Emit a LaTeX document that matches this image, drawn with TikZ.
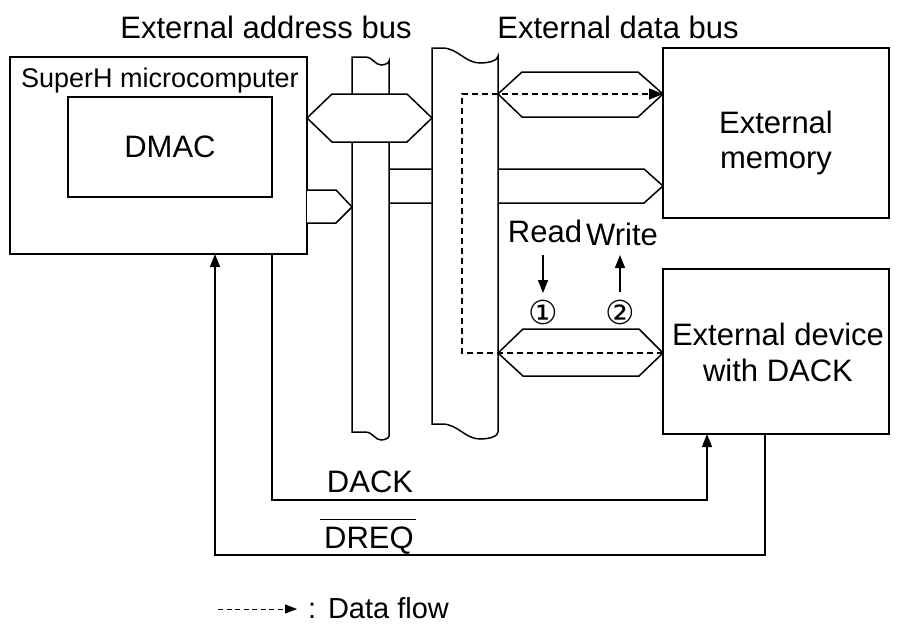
\documentclass[tikz,border=0pt]{standalone}
\usepackage{fontspec}
\setmainfont{Liberation Sans}
\newfontfamily\circfont{DejaVu Sans}
\usetikzlibrary{arrows.meta,calc}
\begin{document}
\begin{tikzpicture}[x=1pt,y=-1pt,line width=1.5pt,line join=miter,
  every node/.style={inner sep=0pt,outer sep=0pt},
  txt/.style={font=\fontsize{31}{36}\selectfont,anchor=base},
  box/.style={draw,line width=1.5pt,anchor=north west},
  hexa/.style={draw,fill=white,line width=1.5pt},
  bus/.style={draw,fill=white,line width=1.5pt},
  tip/.style={-{Triangle[length=13pt,width=10pt]}},
  flow/.style={line width=1.3pt,dash pattern=on 6pt off 4pt,-{Triangle[length=14pt,width=11pt]}},
  circ/.style={font=\circfont\fontsize{33}{36}\selectfont}]
\useasboundingbox (0,0) rectangle (899,624);

% boxes
\node[box,minimum width=297pt,minimum height=197pt] (superh) at (10,57) {};
\node[box,minimum width=204pt,minimum height=100pt] (dmac) at (68,97) {};
\node[box,minimum width=226pt,minimum height=170pt] (extmem) at (663,48) {};
\node[box,minimum width=226pt,minimum height=165pt] (extdev) at (663,269) {};

% external address bus
\draw[bus] (352,432) -- (352,57) -- (365,57) .. controls (373,57) and (375,65) .. (381,65) .. controls (385,65) and (389,63) .. (389,61) -- (389,436) .. controls (389,438) and (385,440) .. (381,440) .. controls (375,440) and (373,432) .. (365,432) -- cycle;

% bidirectional bus arrow SuperH <-> buses
\draw[hexa] (307,118) -- (332,94) -- (407,94) -- (432,118) -- (407,142) -- (332,142) -- cycle;
% SuperH -> address bus
\draw[hexa] (307,190) -- (336,190) -- (352,207) -- (336,223) -- (307,223);
% address bus -> external memory
\draw (389,169) -- (644,169) -- (663,186) -- (644,203) -- (389,203);

% external data bus
\draw[bus] (432,424) -- (432,48) -- (442,48) .. controls (458,48) and (465,63) .. (480,63) .. controls (490,63) and (498,60) .. (498,56) -- (498,432) .. controls (498,436) and (490,439) .. (480,439) .. controls (465,439) and (458,424) .. (442,424) -- cycle;

% data bus <-> memory / device
\draw[hexa] (498,94) -- (522,72) -- (638,72) -- (663,94) -- (638,117) -- (522,117) -- cycle;
\draw[hexa] (498,353) -- (523,329) -- (639,329) -- (663,353) -- (639,376) -- (523,376) -- cycle;

% data flow
\coordinate (fs) at (extdev.west |- 0,353);
\coordinate (fe) at (extmem.west |- 0,94);
\draw[flow] (fs) -- (462,353) -- (462,94) -- (fe);

% labels
\node[txt] (lab1) at (266,38) {External address bus};
\node[txt] (lab2) at (618,38) {External data bus};
\node[anchor=base,font=\fontsize{27}{32}\selectfont] (lsh) at (160,87) {SuperH microcomputer};
\node[txt,anchor=center] (ldmac) at (dmac.center) {DMAC};
\node[txt] (lm1) at (776,133) {External};
\node[txt] (lm2) at (776,168) {memory};
\node[txt] (ld1) at (778,345) {External device};
\node[txt] (ld2) at (778,381) {with DACK};
\node[txt] (lread) at (545,242) {Read};
\node[txt] (lwrite) at (622,245) {Write};
\node[circ] (c1) at (543,312) {①};
\node[circ] (c2) at (620,312) {②};
\draw[tip] (543,255) -- (543,293);
\draw[tip] (620,292) -- (620,255);

% DACK / DREQ
\node[txt] (ldack) at (370,492) {DACK};
\node[txt] (ldreq) at (369,548) {DREQ};
\draw ($(ldreq.north west)+(-4,-7)$) -- ($(ldreq.north east)+(2,-7)$);
\coordinate (dackS) at (superh.south -| dmac.east);
\coordinate (dackE) at (extdev.south -| 707,0);
\draw[tip] (dackS) -- (272,500) -- (707,500) -- (dackE);
\coordinate (dreqS) at (extdev.south -| 765,0);
\coordinate (dreqE) at (superh.south -| 215,0);
\draw[tip] (dreqS) -- (765,555) -- (215,555) -- (dreqE);

% legend
\coordinate (lgs) at (218,609);
\coordinate (lge) at (297,609);
\draw[line width=1pt,dash pattern=on 5pt off 3.5pt,-{Triangle[length=12pt,width=9pt]}] (lgs) -- (lge);
\node[anchor=base west,font=\fontsize{29}{34}\selectfont] (leg) at (308,618) {:\hspace{12pt}Data flow};
\end{tikzpicture}
\end{document}
